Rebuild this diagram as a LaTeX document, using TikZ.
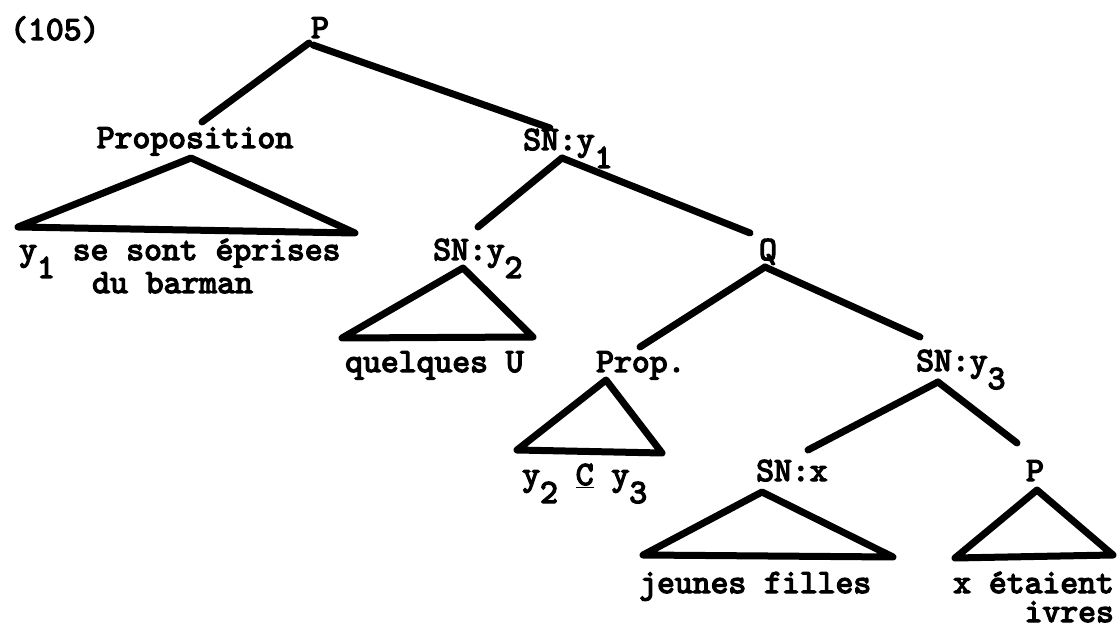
\documentclass[tikz,border=0pt]{standalone}
\usepackage{fontspec}
\newfontfamily\twfont{lmmono10-regular.otf}[FakeBold=4]
\newcommand{\lowr}[1]{\raisebox{-18pt}{#1}}
\tikzset{
  lbl/.style={inner sep=0pt, font=\twfont\fontsize{34}{37}\selectfont},
  branch/.style={line width=7pt, line cap=round, line join=round},
}
\begin{document}
\begin{tikzpicture}[x=1pt,y=-1pt]
\useasboundingbox (0,0) rectangle (1117,628);
% labels
\node[lbl,anchor=base west] (num) at (10,40) {(105)};
\node[lbl,anchor=base] (P) at (320,38) {P};
\node[lbl,anchor=base] (Prop) at (195,148) {Proposition};
\node[lbl,anchor=base west] (SNy1) at (523,150) {SN:y\lowr{1}};
\node[lbl,anchor=base west] (t1) at (19,260) {y\lowr{1} se sont éprises};
\node[lbl,anchor=base west] (t1b) at (92,293) {du barman};
\node[lbl,anchor=base west] (SNy2) at (433,260) {SN:y\lowr{2}};
\node[lbl,anchor=base west] (t2) at (345,372) {quelques U};
\node[lbl,anchor=base] (Q) at (768,260) {Q};
\node[lbl,anchor=base west] (Prp) at (596,372) {Prop.};
\node[lbl,anchor=base west] (SNy3) at (916,371) {SN:y\lowr{3}};
\node[lbl,anchor=base west] (t3) at (522,485) {y\lowr{2} \underline{C} y\lowr{3}};
\node[lbl,anchor=base west] (SNx) at (756,481) {SN:x};
\node[lbl,anchor=base] (P2) at (1035,481) {P};
\node[lbl,anchor=base west] (t4) at (639,593) {jeunes filles};
\node[lbl,anchor=base west,align=right,font=\twfont\fontsize{34}{29}\selectfont] (t5) at (953,622) {x étaient\\ivres};
% branch end points
\coordinate (P-a) at (309,43);
\coordinate (P-b) at (313,45);
\coordinate (Prop-t) at (202,122);
\coordinate (SNy1-t) at (550,128);
\coordinate (SNy1-b) at (562,158);
\coordinate (SNy2-t) at (478,227);
\coordinate (Q-t) at (750,233);
\coordinate (Q-b) at (765,267);
\coordinate (Prp-t) at (640,347);
\coordinate (SNy3-t) at (920,337);
\coordinate (SNy3-b) at (938,382);
\coordinate (SNx-t) at (808,450);
\coordinate (P2-t) at (1017,443);
% triangles
\coordinate (A1) at (191,158); \coordinate (L1) at (18,227); \coordinate (R1) at (355,233);
\coordinate (A2) at (463,268); \coordinate (L2) at (342,338); \coordinate (R2) at (533,337);
\coordinate (A3) at (606,380); \coordinate (L3) at (517,450); \coordinate (R3) at (662,453);
\coordinate (A4) at (762,492); \coordinate (L4) at (643,555); \coordinate (R4) at (893,557);
\coordinate (A5) at (1037,490); \coordinate (L5) at (955,558); \coordinate (R5) at (1113,555);
% branches
\draw[branch] (P-a) -- (Prop-t);
\draw[branch] (P-b) -- (SNy1-t);
\draw[branch] (SNy1-b) -- (SNy2-t);
\draw[branch] (SNy1-b) -- (Q-t);
\draw[branch] (Q-b) -- (Prp-t);
\draw[branch] (Q-b) -- (SNy3-t);
\draw[branch] (SNy3-b) -- (SNx-t);
\draw[branch] (SNy3-b) -- (P2-t);
\draw[branch] (A1) -- (L1) -- (R1) -- cycle;
\draw[branch] (A2) -- (L2) -- (R2) -- cycle;
\draw[branch] (A3) -- (L3) -- (R3) -- cycle;
\draw[branch] (A4) -- (L4) -- (R4) -- cycle;
\draw[branch] (A5) -- (L5) -- (R5) -- cycle;
\end{tikzpicture}
\end{document}
